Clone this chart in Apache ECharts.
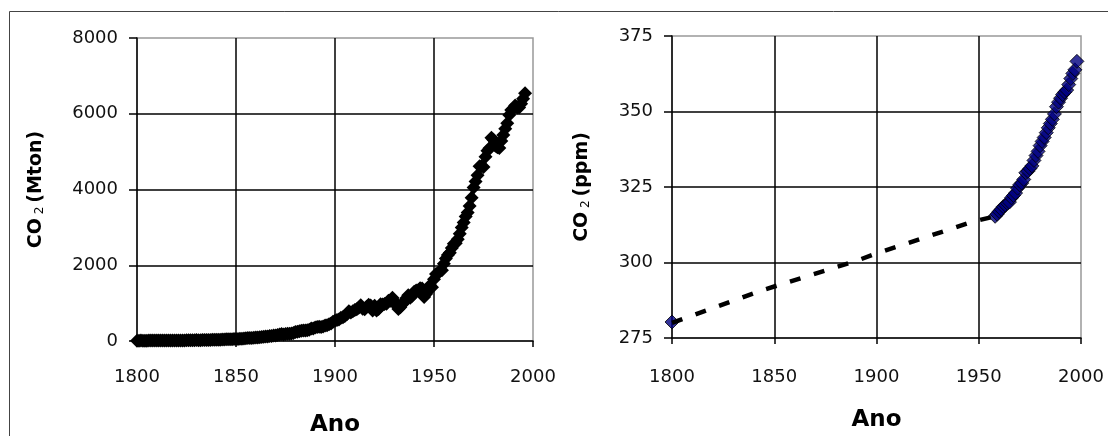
<!DOCTYPE html>
<html>
<head>
<meta charset="utf-8">
<script src="https://cdn.jsdelivr.net/npm/echarts@6/dist/echarts.min.js"></script>
<style>
  html, body { margin: 0; padding: 0; background: #fff; }
  #chart { width: 1108px; height: 436px; }
</style>
</head>
<body>
<div id="chart"></div>
<script>
// emissions, one value per year from 1800
var startYear = 1800;
var emissions = [
  8, 8, 10, 9, 9, 9, 10, 10, 10, 10,
  10, 11, 11, 11, 11, 12, 13, 14, 14, 14,
  14, 14, 15, 16, 16, 17, 17, 18, 18, 18,
  24, 23, 23, 24, 24, 25, 29, 29, 30, 31,
  33, 34, 36, 37, 39, 43, 43, 46, 47, 50,
  54, 54, 57, 59, 69, 71, 76, 77, 78, 83,
  91, 95, 97, 104, 112, 119, 122, 130, 135, 142,
  147, 156, 173, 184, 174, 188, 191, 194, 196, 210,
  236, 243, 256, 272, 275, 277, 281, 295, 327, 327,
  356, 372, 374, 370, 383, 406, 419, 440, 465, 507,
  534, 552, 566, 617, 624, 663, 707, 784, 750, 785,
  819, 836, 879, 943, 850, 838, 901, 955, 936, 806,
  932, 803, 845, 970, 963, 975, 983, 1062, 1065, 1145,
  1053, 940, 847, 893, 973, 1027, 1130, 1209, 1142, 1192,
  1299, 1334, 1342, 1391, 1383, 1160, 1238, 1392, 1469, 1419,
  1630, 1767, 1795, 1841, 1865, 2042, 2177, 2270, 2330, 2454,
  2569, 2580, 2686, 2833, 2995, 3130, 3288, 3393, 3566, 3780,
  4053, 4208, 4376, 4614, 4623, 4596, 4864, 5026, 5087, 5369,
  5315, 5152, 5113, 5094, 5280, 5439, 5607, 5752, 5965, 6097,
  6127, 6217, 6164, 6162, 6266, 6398, 6542
];

// concentration: estimated trend (dashed) and measured points
var trendYears = [1800, 1845, 1890, 1900, 1947, 1958];
var trendPpm = [280, 291, 300.5, 303, 313.5, 315.3];

var ppmYears = [1800,
  1958, 1959, 1960, 1961, 1962, 1963, 1964, 1965, 1966, 1967,
  1968, 1969, 1970, 1971, 1972, 1973, 1974, 1975, 1976, 1977,
  1978, 1979, 1980, 1981, 1982, 1983, 1984, 1985, 1986, 1987,
  1988, 1989, 1990, 1991, 1992, 1993, 1994, 1995, 1996, 1997, 1998];
var ppmValues = [280.3,
  315.3, 316.0, 316.9, 317.6, 318.5, 319.0, 319.6, 320.0, 321.4, 322.2,
  323.0, 324.6, 325.7, 326.3, 327.5, 329.7, 330.2, 331.1, 332.0, 333.8,
  335.4, 336.8, 338.7, 340.1, 341.4, 343.0, 344.6, 346.0, 347.4, 349.2,
  351.6, 353.1, 354.4, 355.6, 356.4, 357.1, 358.9, 360.9, 362.6, 363.8, 366.6];

var xTicks = { min: 1800, max: 2000, interval: 50 };

var emissionData = emissions.map(function (v, i) { return [startYear + i, v]; });
var trendData = trendYears.map(function (y, i) { return [y, trendPpm[i]]; });
var ppmData = ppmYears.map(function (y, i) { return [y, ppmValues[i]]; });

// the original text is wide, DejaVu Sans gets closest in size
var font = '"DejaVu Sans", "Liberation Sans", sans-serif';
var txt = '#111';
var plain = function (v) { return String(v); };

function xAxisFor(idx, gap, margin) {
  return {
    gridIndex: idx, type: 'value',
    min: xTicks.min, max: xTicks.max, interval: xTicks.interval,
    name: 'Ano', nameLocation: 'middle', nameGap: gap,
    nameTextStyle: { fontFamily: font, fontSize: 23, fontWeight: 'bold', color: '#000' },
    axisLine: { lineStyle: { color: '#000', width: 1.5 } },
    axisTick: { show: true, length: 6, lineStyle: { color: '#000', width: 1.5 } },
    axisLabel: { fontFamily: font, fontSize: 18, color: txt, margin: margin, formatter: plain },
    splitLine: { show: true, showMinLine: false, showMaxLine: false, lineStyle: { color: '#000', width: 1.5 } }
  };
}

function yAxisFor(idx, min, max, step, unit, gap) {
  return {
    gridIndex: idx, type: 'value', min: min, max: max, interval: step,
    name: '{b|CO}{s| 2 }{b|(' + unit + ')}', nameLocation: 'middle', nameGap: gap, nameRotate: 90,
    nameTextStyle: {
      rich: {
        b: { fontFamily: font, fontSize: 19, fontWeight: 'bold', color: '#000' },
        s: { fontFamily: font, fontSize: 12, color: '#000', verticalAlign: 'bottom', padding: [6, 0, 0, 0] }
      }
    },
    axisLine: { show: true, lineStyle: { color: '#000', width: 1.5 } },
    axisTick: { show: true, length: 8, lineStyle: { color: '#000', width: 1.5 } },
    axisLabel: { fontFamily: font, fontSize: 18, color: txt, margin: 19, formatter: plain },
    splitLine: { show: true, showMinLine: false, showMaxLine: false, lineStyle: { color: '#000', width: 1.5 } }
  };
}

var chart = echarts.init(document.getElementById('chart'));
var option = {
  backgroundColor: '#fff',
  animation: false,
  graphic: [{
    type: 'polyline', silent: true,
    shape: { points: [[9.5, 436], [9.5, 11.5], [1108, 11.5]] },
    style: { stroke: '#444', lineWidth: 1, fill: null }
  }],
  grid: [
    { left: 137, top: 38, width: 396, height: 303, show: true, borderColor: '#999', borderWidth: 1.5,
      containLabel: false, outerBoundsMode: 'none' },
    { left: 672, top: 36, width: 409, height: 302, show: true, borderColor: '#999', borderWidth: 1.5,
      containLabel: false, outerBoundsMode: 'none' }
  ],
  xAxis: [xAxisFor(0, 73, 27), xAxisFor(1, 71, 30)],
  yAxis: [
    yAxisFor(0, 0, 8000, 2000, 'Mton', 91),
    yAxisFor(1, 275, 375, 25, 'ppm', 80)
  ],
  series: [
    {
      type: 'line', xAxisIndex: 0, yAxisIndex: 0, data: emissionData,
      symbol: 'diamond', symbolSize: 14,
      itemStyle: { color: '#000' },
      lineStyle: { color: '#000', width: 4 }
    },
    {
      type: 'line', xAxisIndex: 1, yAxisIndex: 1, data: trendData,
      symbol: 'none',
      lineStyle: { color: '#000', width: 4.5, type: [11, 14] }
    },
    {
      type: 'scatter', xAxisIndex: 1, yAxisIndex: 1, data: ppmData,
      symbol: 'diamond', symbolSize: 14,
      itemStyle: { color: '#000080', borderColor: '#000', borderWidth: 1 }
    }
  ]
};
chart.setOption(option);
</script>
</body>
</html>
